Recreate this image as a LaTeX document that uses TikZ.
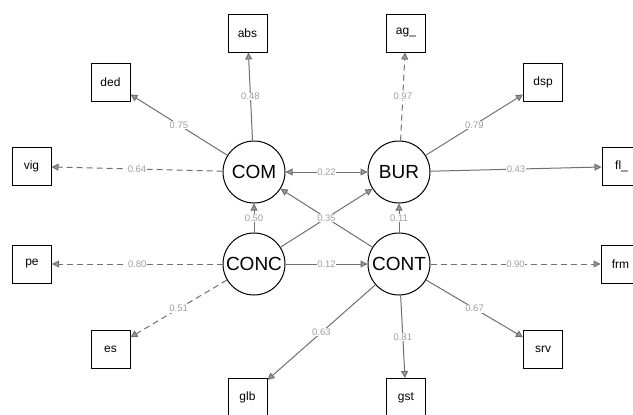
\documentclass[tikz,border=0pt]{standalone}
\usepackage{fontspec}
\setmainfont{Liberation Sans}
\usetikzlibrary{arrows.meta}
\definecolor{edgegray}{HTML}{707070}
\definecolor{labgray}{HTML}{A0A0A0}
\begin{document}
\begin{tikzpicture}[x=1pt,y=-1pt,
  latent/.style={circle,draw=black,line width=1pt,minimum size=62pt,inner sep=0pt,font=\fontsize{19}{19}\selectfont},
  manifest/.style={rectangle,draw=black,line width=1pt,minimum width=39pt,minimum height=38pt,inner sep=0pt,font=\fontsize{12}{12}\selectfont},
  path/.style={draw=edgegray,line width=1pt,-{Triangle[length=7pt,width=7pt,fill=edgegray!70]}},
  bipath/.style={draw=edgegray,line width=1pt,{Triangle[length=7pt,width=7pt,fill=edgegray!70]}-{Triangle[length=7pt,width=7pt,fill=edgegray!70]}},
  dpath/.style={path,dash pattern=on 6pt off 4pt},
  lab/.style={fill=white,inner sep=0.6pt,text=labgray,font=\fontsize{9.5}{10}\selectfont}
]
\useasboundingbox (0,0) rectangle (633,415);
\fill[white] (0,0) rectangle (633,415);
% latent variables
\node[latent] (COM) at (254,172) {COM};
\node[latent] (BUR) at (399,172) {BUR};
\node[latent] (CONC) at (254,264) {CONC};
\node[latent] (CONT) at (399,264) {CONT};
% manifest variables
\node[manifest] (abs) at (247.5,33) {abs};
\node[manifest] (ded) at (110.5,82) {ded};
\node[manifest] (vig) at (31.5,166.5) {vig};
\node[manifest] (ag) at (406,33) {ag\_};
\node[manifest] (dsp) at (543,82) {dsp};
\node[manifest] (fl) at (621.5,166.5) {fl\_};
\node[manifest] (pe) at (32,264) {pe};
\node[manifest] (es) at (110.5,349) {es};
\node[manifest] (glb) at (247.5,397.5) {glb};
\node[manifest] (gst) at (406,397.5) {gst};
\node[manifest] (srv) at (543,349) {srv};
\node[manifest] (frm) at (620.5,264) {frm};
% loadings
\draw[path] (COM) -- node[lab] (l1) {0.48} (abs);
\draw[path] (COM) -- node[lab] (l2) {0.75} (ded);
\draw[dpath] (COM) -- node[lab] (l3) {0.64} (vig);
\draw[dpath] (BUR) -- node[lab] (l4) {0.97} (ag);
\draw[path] (BUR) -- node[lab] (l5) {0.79} (dsp);
\draw[path] (BUR) -- node[lab] (l6) {0.43} (fl);
\draw[dpath] (CONC) -- node[lab] (l7) {0.80} (pe);
\draw[dpath] (CONC) -- node[lab] (l8) {0.51} (es);
\draw[path] (CONT) -- node[lab] (l9) {0.63} (glb);
\draw[path] (CONT) -- node[lab] (l10) {0.81} (gst);
\draw[path] (CONT) -- node[lab] (l11) {0.67} (srv);
\draw[dpath] (CONT) -- node[lab] (l12) {0.90} (frm);
% structural paths
\draw[bipath] (COM) -- node[lab] (l13) {0.22} (BUR);
\draw[path] (CONC) -- (BUR);
\draw[path] (CONT) -- node[lab] (l14) {0.35} (COM);
\draw[path] (CONC) -- node[lab] (l15) {0.50} (COM);
\draw[path] (CONT) -- node[lab] (l16) {0.11} (BUR);
\draw[path] (CONC) -- node[lab] (l17) {0.12} (CONT);
\end{tikzpicture}
\end{document}
